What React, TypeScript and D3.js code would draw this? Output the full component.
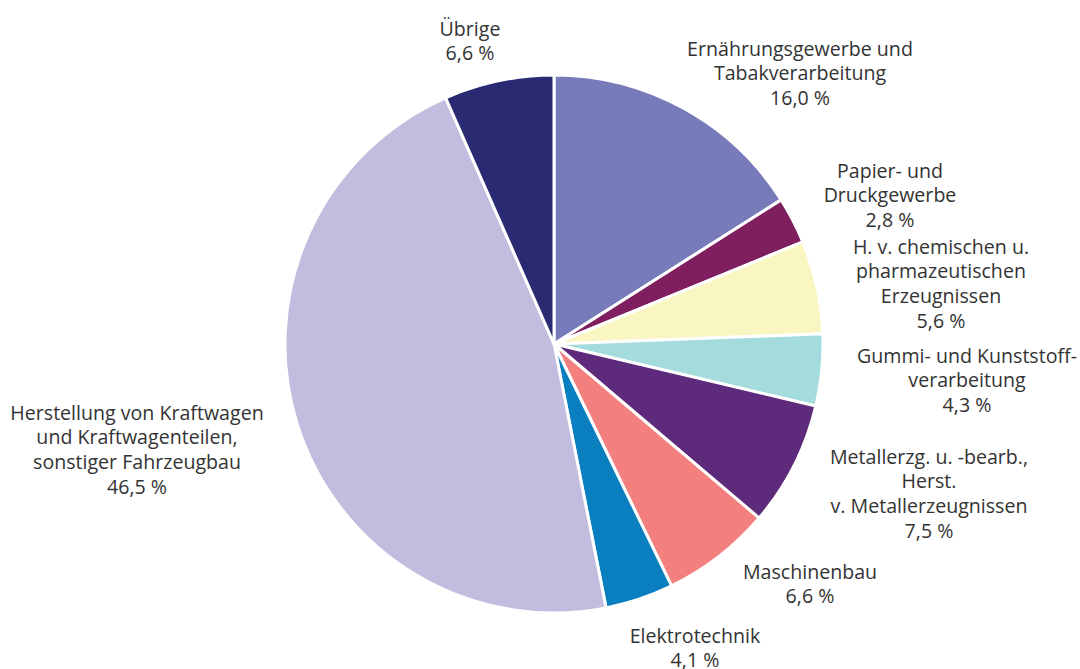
import React from "react";
import * as d3 from "d3";

const categories = [
  "Ernährungsgewerbe und|Tabakverarbeitung",
  "Papier- und|Druckgewerbe",
  "H. v. chemischen u.|pharmazeutischen|Erzeugnissen",
  "Gummi- und Kunststoff-|verarbeitung",
  "Metallerzg. u. -bearb.,|Herst.|v. Metallerzeugnissen",
  "Maschinenbau",
  "Elektrotechnik",
  "Herstellung von Kraftwagen|und Kraftwagenteilen,|sonstiger Fahrzeugbau",
  "Übrige",
];
const values = [16.0, 2.8, 5.6, 4.3, 7.5, 6.6, 4.1, 46.5, 6.6];
const valueLabels = ["16,0 %", "2,8 %", "5,6 %", "4,3 %", "7,5 %", "6,6 %", "4,1 %", "46,5 %", "6,6 %"];
const colors = ["#787bba", "#7f1f5f", "#f9f6c2", "#a4dbdc", "#5e2a7b", "#f47f7f", "#0a7fbf", "#c2bddf", "#292a72"];

// label layout: center x and first-line center y
const labelLayout: [number, number][] = [
  [800, 48],
  [890, 170],
  [941, 246],
  [967, 355],
  [929, 456],
  [810, 571],
  [695, 635],
  [137, 412],
  [470, 28],
];

const W = 1080;
const H = 669;
const cx = 554;
const cy = 344;
const R = 269;
const LH = 24.7;

export default function App() {
  const pie = d3.pie<number>().sort(null).value((d) => d)(values);
  const arc = d3.arc<d3.PieArcDatum<number>>().innerRadius(0).outerRadius(R);
  return (
    <svg width={W} height={H} style={{ position: "absolute", left: 0, top: 0, background: "#fff" }}>
      <g transform={`translate(${cx},${cy})`}>
        {pie.map((p, i) => (
          <path key={i} d={arc(p) || ""} fill={colors[i]} stroke="#fff" strokeWidth={3} strokeLinejoin="round" />
        ))}
      </g>
      {categories.map((c, i) => {
        const lines = [...c.split("|"), valueLabels[i]];
        const [x, y] = labelLayout[i];
        return (
          <text key={i} fontFamily="'Open Sans', sans-serif" fontSize={19.6} fill="#333" textAnchor="middle">
            {lines.map((l, j) => (
              <tspan key={j} x={x} y={y + j * LH} dominantBaseline="central">
                {l}
              </tspan>
            ))}
          </text>
        );
      })}
    </svg>
  );
}
